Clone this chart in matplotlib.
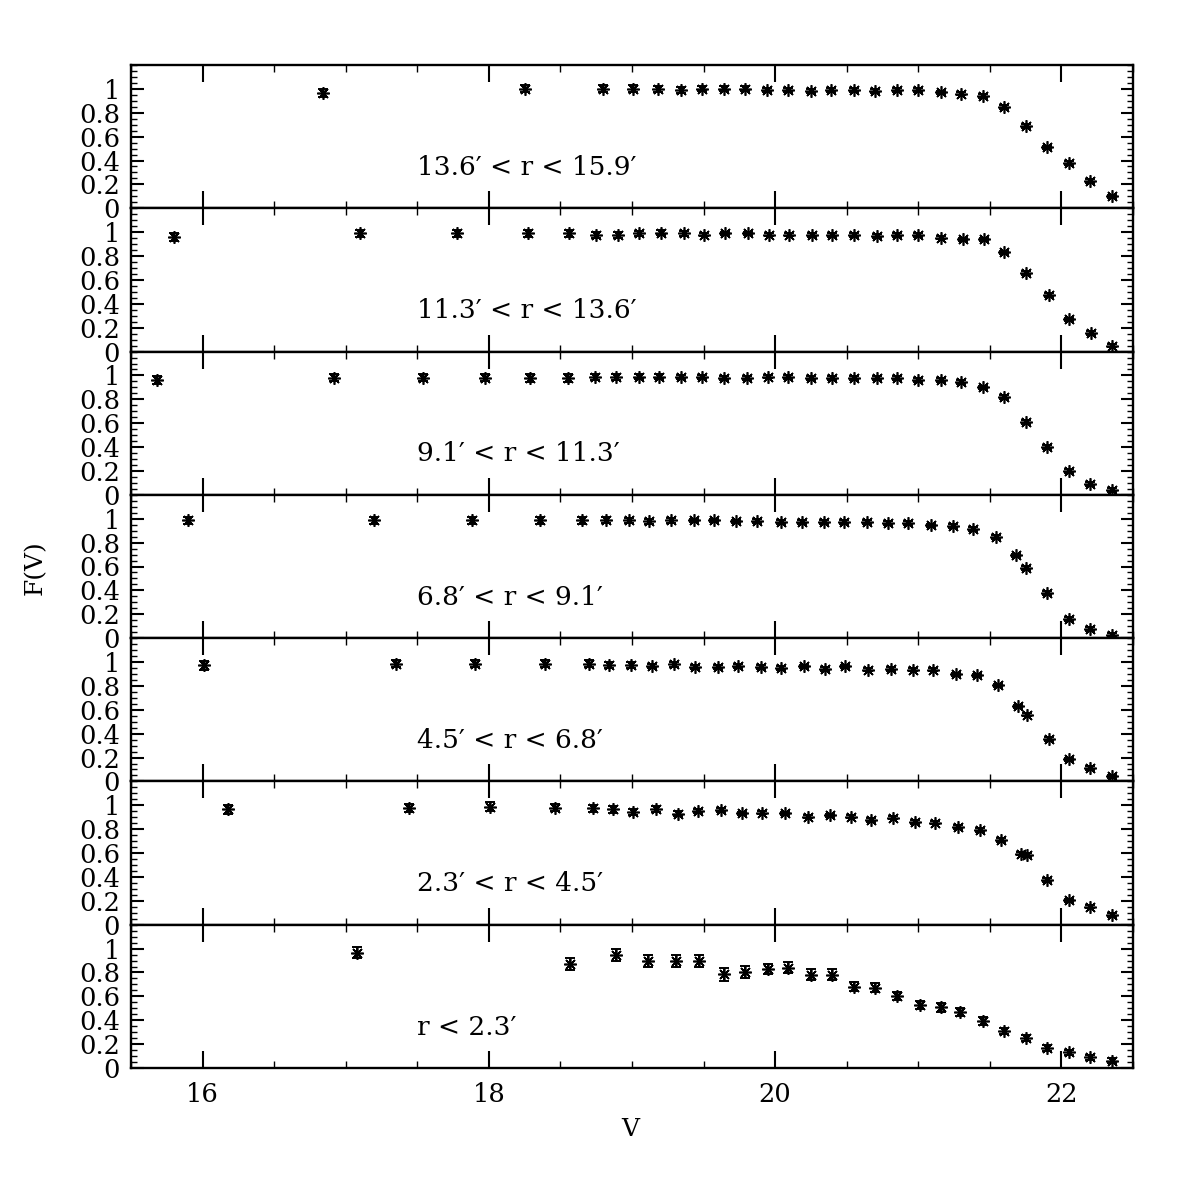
import matplotlib
matplotlib.use("Agg")
import matplotlib.pyplot as plt
from matplotlib.ticker import MultipleLocator, FixedLocator
import numpy as np

plt.rcParams['font.family'] = ['DejaVu Serif']

labels = ["13.6\u2032 < r < 15.9\u2032", "11.3\u2032 < r < 13.6\u2032", "9.1\u2032 < r < 11.3\u2032",
          "6.8\u2032 < r < 9.1\u2032", "4.5\u2032 < r < 6.8\u2032", "2.3\u2032 < r < 4.5\u2032",
          "r < 2.3\u2032"]

v1 = [16.84, 18.25, 18.80, 19.01, 19.18, 19.34, 19.49, 19.64, 19.79, 19.94, 20.09, 20.25, 20.39,
      20.55, 20.70, 20.85, 21.00, 21.16, 21.30, 21.45, 21.60, 21.75, 21.90, 22.05, 22.20, 22.35]
f1 = [0.965, 1.0, 1.0, 1.0, 1.0, 0.99, 1.0, 1.0, 1.0, 0.99, 0.99, 0.98, 0.99,
      0.99, 0.98, 0.99, 0.99, 0.97, 0.96, 0.94, 0.85, 0.69, 0.51, 0.38, 0.23, 0.10]
e1 = [0.035, 0.03, 0.03, 0.03, 0.025, 0.025, 0.02, 0.02, 0.02, 0.02, 0.015, 0.015, 0.015,
      0.015, 0.015, 0.015, 0.015, 0.015, 0.015, 0.015, 0.015, 0.015, 0.015, 0.015, 0.015, 0.015]

v2 = [15.80, 17.10, 17.78, 18.27, 18.56, 18.75, 18.90, 19.05, 19.20, 19.36, 19.50, 19.65, 19.81,
      19.96, 20.10, 20.26, 20.40, 20.55, 20.71, 20.85, 21.00, 21.16, 21.31, 21.46, 21.60, 21.75,
      21.91, 22.05, 22.21, 22.35]
f2 = [0.96, 0.99, 0.99, 0.99, 0.99, 0.975, 0.98, 0.99, 0.995, 0.99, 0.98, 0.99, 0.99,
      0.98, 0.98, 0.975, 0.975, 0.975, 0.97, 0.975, 0.975, 0.955, 0.94, 0.94, 0.83, 0.66,
      0.475, 0.27, 0.155, 0.05]
e2 = [0.035, 0.03, 0.03, 0.03, 0.03, 0.025, 0.025, 0.02, 0.02, 0.02, 0.015, 0.015, 0.015,
      0.015, 0.015, 0.015, 0.015, 0.015, 0.015, 0.015, 0.015, 0.015, 0.015, 0.015, 0.015, 0.015,
      0.015, 0.015, 0.015, 0.015]

v3 = [15.68, 16.92, 17.54, 17.97, 18.29, 18.55, 18.74, 18.89, 19.05, 19.19, 19.34, 19.49, 19.64,
      19.80, 19.95, 20.09, 20.25, 20.40, 20.55, 20.71, 20.85, 21.00, 21.16, 21.30, 21.45, 21.60,
      21.75, 21.90, 22.05, 22.20, 22.35]
f3 = [0.96, 0.98, 0.98, 0.98, 0.978, 0.978, 0.986, 0.986, 0.99, 0.99, 0.986, 0.986, 0.98,
      0.98, 0.99, 0.986, 0.98, 0.98, 0.98, 0.98, 0.98, 0.96, 0.96, 0.945, 0.90, 0.82,
      0.61, 0.40, 0.20, 0.09, 0.04]
e3 = [0.035, 0.03, 0.03, 0.03, 0.03, 0.03, 0.025, 0.025, 0.02, 0.02, 0.015, 0.015, 0.015,
      0.015, 0.015, 0.015, 0.015, 0.015, 0.015, 0.015, 0.015, 0.015, 0.015, 0.015, 0.015, 0.015,
      0.015, 0.015, 0.015, 0.015, 0.015]

v4 = [15.90, 17.20, 17.88, 18.36, 18.65, 18.82, 18.98, 19.12, 19.27, 19.43, 19.57, 19.73, 19.87,
      20.04, 20.19, 20.34, 20.48, 20.64, 20.79, 20.93, 21.09, 21.24, 21.38, 21.54, 21.68, 21.75,
      21.90, 22.05, 22.20, 22.35]
f4 = [0.986, 0.986, 0.986, 0.986, 0.986, 0.986, 0.986, 0.98, 0.986, 0.986, 0.986, 0.978, 0.98,
      0.972, 0.972, 0.972, 0.972, 0.972, 0.966, 0.966, 0.944, 0.94, 0.916, 0.846, 0.693, 0.587,
      0.377, 0.162, 0.078, 0.028]
e4 = [0.03, 0.03, 0.03, 0.03, 0.03, 0.025, 0.02, 0.02, 0.02, 0.015, 0.015, 0.015, 0.015,
      0.015, 0.015, 0.015, 0.015, 0.015, 0.015, 0.015, 0.015, 0.015, 0.015, 0.015, 0.015, 0.015,
      0.015, 0.015, 0.015, 0.015]

v5 = [16.01, 17.35, 17.90, 18.39, 18.70, 18.84, 18.99, 19.14, 19.29, 19.44, 19.60, 19.74, 19.90,
      20.04, 20.20, 20.35, 20.49, 20.65, 20.81, 20.96, 21.10, 21.26, 21.41, 21.56, 21.70, 21.76,
      21.91, 22.05, 22.20, 22.35]
f5 = [0.972, 0.986, 0.986, 0.986, 0.986, 0.972, 0.972, 0.966, 0.98, 0.958, 0.958, 0.966, 0.958,
      0.952, 0.964, 0.944, 0.964, 0.936, 0.944, 0.936, 0.936, 0.897, 0.888, 0.804, 0.628, 0.559,
      0.357, 0.184, 0.112, 0.042]
e5 = [0.035, 0.03, 0.03, 0.03, 0.03, 0.025, 0.025, 0.02, 0.02, 0.015, 0.015, 0.015, 0.015,
      0.015, 0.015, 0.015, 0.015, 0.015, 0.015, 0.015, 0.015, 0.015, 0.015, 0.015, 0.015, 0.015,
      0.015, 0.015, 0.015, 0.015]

v6 = [16.18, 17.44, 18.01, 18.46, 18.73, 18.87, 19.01, 19.17, 19.32, 19.46, 19.62, 19.77, 19.91,
      20.07, 20.23, 20.38, 20.53, 20.67, 20.82, 20.98, 21.12, 21.28, 21.43, 21.58, 21.72, 21.76,
      21.90, 22.05, 22.20, 22.35]
f6 = [0.966, 0.98, 0.989, 0.98, 0.975, 0.966, 0.944, 0.966, 0.93, 0.953, 0.961, 0.933, 0.939,
      0.933, 0.905, 0.916, 0.905, 0.877, 0.897, 0.86, 0.855, 0.818, 0.793, 0.709, 0.595, 0.584,
      0.374, 0.204, 0.151, 0.081]
e6 = [0.035, 0.035, 0.035, 0.03, 0.03, 0.03, 0.025, 0.025, 0.02, 0.02, 0.015, 0.015, 0.015,
      0.015, 0.015, 0.015, 0.015, 0.015, 0.015, 0.015, 0.015, 0.015, 0.015, 0.015, 0.015, 0.015,
      0.015, 0.015, 0.015, 0.015]

v7 = [17.08, 18.57, 18.89, 19.11, 19.31, 19.47, 19.64, 19.79, 19.95, 20.09, 20.25, 20.40, 20.55,
      20.70, 20.85, 21.01, 21.16, 21.29, 21.45, 21.60, 21.75, 21.90, 22.05, 22.20, 22.35]
f7 = [0.966, 0.874, 0.95, 0.896, 0.896, 0.896, 0.785, 0.802, 0.83, 0.84, 0.78, 0.78, 0.682,
      0.673, 0.603, 0.528, 0.508, 0.469, 0.394, 0.31, 0.254, 0.165, 0.131, 0.089, 0.061]
e7 = [0.045, 0.05, 0.05, 0.05, 0.05, 0.05, 0.055, 0.05, 0.045, 0.045, 0.045, 0.045, 0.04,
      0.04, 0.035, 0.035, 0.035, 0.03, 0.03, 0.025, 0.025, 0.025, 0.02, 0.02, 0.02]

vs = [v1, v2, v3, v4, v5, v6, v7]
fs = [f1, f2, f3, f4, f5, f6, f7]
es = [e1, e2, e3, e4, e5, e6, e7]

fig = plt.figure(figsize=(11.96, 11.96), dpi=100)
gs = fig.add_gridspec(7, 1, left=131/1196, right=1133/1196, top=1-65/1196, bottom=1-1068/1196, hspace=0)
axes = [fig.add_subplot(gs[i]) for i in range(7)]

for i, ax in enumerate(axes):
    ax.errorbar(vs[i], fs[i], yerr=es[i], fmt='none', ecolor='black', elinewidth=1.4,
                capsize=3.5, capthick=1.4)
    ax.plot(vs[i], fs[i], linestyle='none', marker=(8, 2, 0), markersize=9,
            markeredgewidth=1.2, color='black')
    ax.set_xlim(15.5, 22.5)
    ax.set_ylim(0, 1.2)
    ax.xaxis.set_major_locator(MultipleLocator(2))
    ax.xaxis.set_minor_locator(MultipleLocator(0.5))
    ax.yaxis.set_major_locator(FixedLocator([0, 0.2, 0.4, 0.6, 0.8, 1.0]))
    ax.yaxis.set_minor_locator(MultipleLocator(0.05))
    ax.set_yticklabels(["0", "0.2", "0.4", "0.6", "0.8", "1"])
    ax.tick_params(axis='x', which='major', direction='in', top=True, bottom=True,
                   length=12, width=1.5, labelsize=18.5, pad=10)
    ax.tick_params(axis='x', which='minor', direction='in', top=True, bottom=True,
                   length=5, width=1.0)
    ax.tick_params(axis='y', which='major', direction='in', left=True, right=True,
                   length=9, width=1.5, labelsize=18.5, pad=8)
    ax.tick_params(axis='y', which='minor', direction='in', left=True, right=True,
                   length=4.5, width=1.0)
    for s in ax.spines.values():
        s.set_linewidth(1.7)
    if i < 6:
        ax.tick_params(axis='x', labelbottom=False)
    ax.text(17.5, 0.28, labels[i], fontsize=19, ha='left', va='baseline')

fig.text(35/1196, 1-568/1196, "F(V)", rotation=90, fontsize=18, ha='center', va='center')
fig.text(630/1196, 1-1130/1196, "V", fontsize=18, ha='center', va='center')

fig.savefig("out.png", dpi=100)
